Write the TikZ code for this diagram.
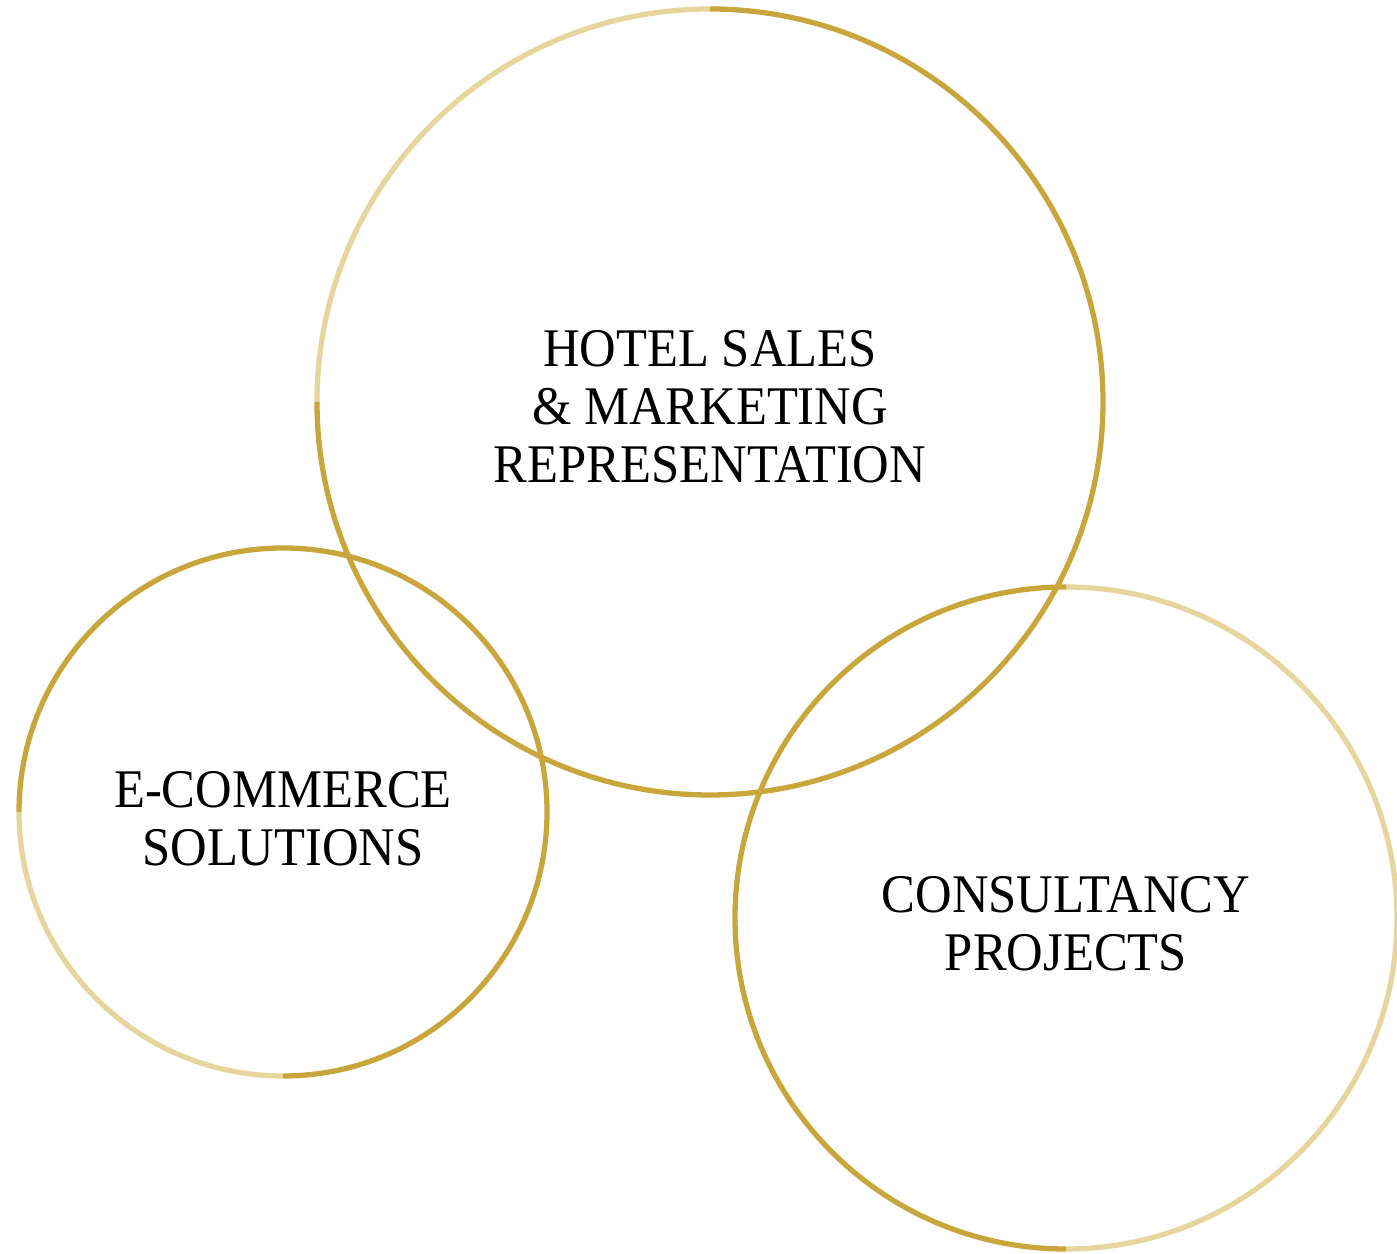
\documentclass[tikz,border=0pt]{standalone}
\usepackage{fontspec}
\setmainfont{Liberation Serif}[FakeStretch=0.93]
\usepackage{xcolor}
\usetikzlibrary{calc}
\definecolor{golddark}{RGB}{201,166,60}
\definecolor{goldlight}{RGB}{230,213,156}
\tikzset{
    ring/.style={line width=3pt,golddark},
    ringlight/.style={line width=3pt,goldlight},
    ringtext/.style={align=center,font=\fontsize{31}{33}\selectfont}
}

\begin{document}
\begin{tikzpicture}[x=0.02cm,y=0.02cm]
        \useasboundingbox (0,0) rectangle (1397,1254);
        \coordinate (H) at (710,852);
        \coordinate (E) at (283,442);
        \coordinate (C) at (1066,336);
        % hotel circle
        \draw[ringlight] (H) ++(90:393) arc[start angle=90,end angle=180,radius=393];
        \draw[ring] (H) ++(180:393) arc[start angle=180,end angle=450,radius=393];
        % e-commerce circle
        \draw[ringlight] (E) ++(180:264) arc[start angle=180,end angle=270,radius=264];
        \draw[ring] (E) ++(270:264) arc[start angle=270,end angle=540,radius=264];
        % consultancy circle
        \draw[ringlight] (C) ++(-90:331) arc[start angle=-90,end angle=90,radius=331];
        \draw[ring] (C) ++(90:331) arc[start angle=90,end angle=270,radius=331];
        \node[ringtext] (hotel) at (710,847) {HOTEL SALES\\\& MARKETING\\REPRESENTATION};
        \node[ringtext] (ecom) at (283,435) {E-COMMERCE\\SOLUTIONS};
        \node[ringtext] (consult) at (1066,330) {CONSULTANCY\\PROJECTS};
    \end{tikzpicture}
\end{document}
